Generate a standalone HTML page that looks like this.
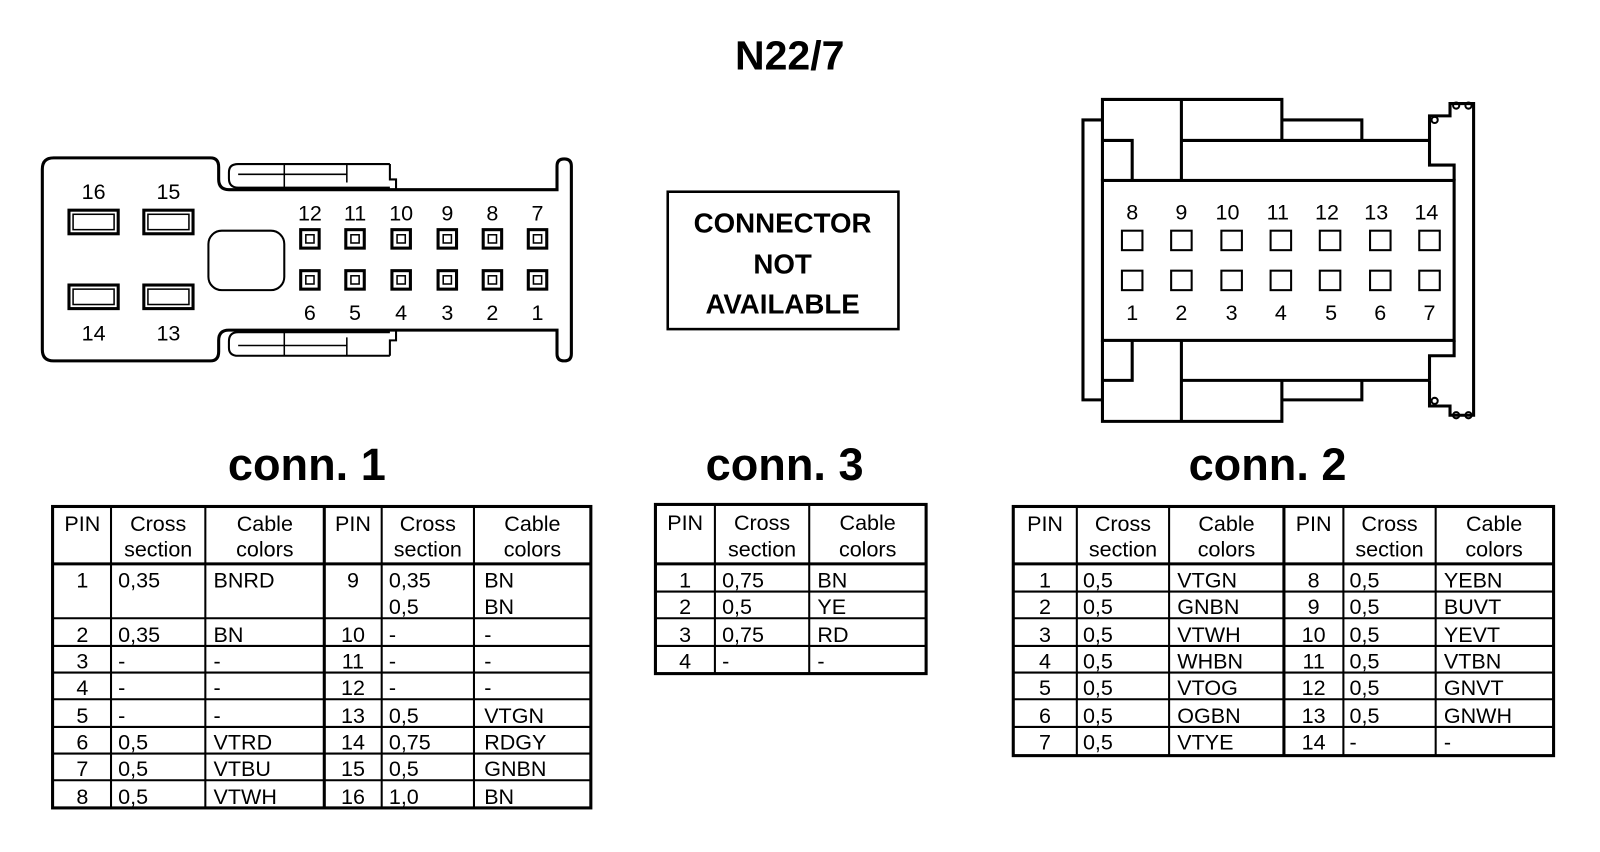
<!DOCTYPE html>
<html><head><meta charset="utf-8"><style>
html,body{margin:0;padding:0;background:#fff;}
svg{display:block;}
text{font-family:"Liberation Sans",Arial,sans-serif;fill:#000;}
.t{font-size:21px;}
.h{font-size:21px;text-anchor:middle;}
.c{text-anchor:middle;}
.p{font-size:21px;}
</style></head><body>
<svg width="1600" height="852" viewBox="0 0 1560 831" xmlns="http://www.w3.org/2000/svg">
<rect width="1560" height="831" fill="#fff"/>
<text x="770" y="68" font-size="40" font-weight="bold" class="c">N22/7</text>

<!-- conn 1 drawing -->
<g fill="none" stroke="#000" stroke-width="3">
<path d="M52,154 L205,154 Q213,154 213,163 L213,175 Q213,185 223,185 L543,185 L543,162 Q543,155 550,155 Q557,155 557,162 L557,345 Q557,352 550,352 Q543,352 543,345 L543,322 L223,322 Q213,322 213,332 L213,343 Q213,352 205,352 L52,352 Q41,352 41,341 L41,165 Q41,154 52,154 Z"/>
<path d="M380,183 L232,183 Q223,183 223,174 L223,168 Q223,160 232,160 L380,160 M380,160 L380,175 L386,175 L386,185" stroke-width="2"/>
<path d="M277,160 L277,185 M232,170 L338,170 L338,160 M338,170 L338,178" stroke-width="1.5"/>
<path d="M380,324 L232,324 Q223,324 223,333 L223,339 Q223,347 232,347 L380,347 M380,347 L380,332 L386,332 L386,322" stroke-width="2"/>
<path d="M277,322 L277,347 M232,337 L338,337 L338,347 M338,337 L338,329" stroke-width="1.5"/>
<rect x="203" y="225" width="74" height="58" rx="13" stroke-width="2"/>
</g>
<g fill="none" stroke="#000">
<rect x="67" y="205" width="48" height="23" stroke-width="3"/><rect x="71" y="209" width="40" height="15" stroke-width="1.5"/>
<rect x="140" y="205" width="48" height="23" stroke-width="3"/><rect x="144" y="209" width="40" height="15" stroke-width="1.5"/>
<rect x="67" y="278" width="48" height="23" stroke-width="3"/><rect x="71" y="282" width="40" height="15" stroke-width="1.5"/>
<rect x="140" y="278" width="48" height="23" stroke-width="3"/><rect x="144" y="282" width="40" height="15" stroke-width="1.5"/>
</g>
<g class="p">
<text x="91" y="194" class="c">16</text><text x="164" y="194" class="c">15</text>
<text x="91" y="332" class="c">14</text><text x="164" y="332" class="c">13</text>
</g>
<g fill="none" stroke="#000">
<g stroke-width="3">
<rect x="293" y="224" width="18" height="18"/><rect x="337" y="224" width="18" height="18"/><rect x="382" y="224" width="18" height="18"/><rect x="427" y="224" width="18" height="18"/><rect x="471" y="224" width="18" height="18"/><rect x="515" y="224" width="18" height="18"/>
<rect x="293" y="264" width="18" height="18"/><rect x="337" y="264" width="18" height="18"/><rect x="382" y="264" width="18" height="18"/><rect x="427" y="264" width="18" height="18"/><rect x="471" y="264" width="18" height="18"/><rect x="515" y="264" width="18" height="18"/>
</g>
<g stroke-width="1.5">
<rect x="298" y="229" width="8" height="8"/><rect x="342" y="229" width="8" height="8"/><rect x="387" y="229" width="8" height="8"/><rect x="432" y="229" width="8" height="8"/><rect x="476" y="229" width="8" height="8"/><rect x="520" y="229" width="8" height="8"/>
<rect x="298" y="269" width="8" height="8"/><rect x="342" y="269" width="8" height="8"/><rect x="387" y="269" width="8" height="8"/><rect x="432" y="269" width="8" height="8"/><rect x="476" y="269" width="8" height="8"/><rect x="520" y="269" width="8" height="8"/>
</g></g>
<g class="p">
<text x="302" y="215" class="c">12</text><text x="346" y="215" class="c">11</text><text x="391" y="215" class="c">10</text><text x="436" y="215" class="c">9</text><text x="480" y="215" class="c">8</text><text x="524" y="215" class="c">7</text>
<text x="302" y="312" class="c">6</text><text x="346" y="312" class="c">5</text><text x="391" y="312" class="c">4</text><text x="436" y="312" class="c">3</text><text x="480" y="312" class="c">2</text><text x="524" y="312" class="c">1</text>
</g>

<!-- connector not available -->
<rect x="651" y="187" width="225" height="134" fill="none" stroke="#000" stroke-width="2.5"/>
<g font-size="27" font-weight="bold" class="c">
<text x="763" y="227" class="c">CONNECTOR</text><text x="763" y="267" class="c">NOT</text><text x="763" y="306" class="c">AVAILABLE</text>
</g>

<!-- conn 2 drawing -->
<g fill="none" stroke="#000" stroke-linejoin="miter">
<rect x="1075" y="176" width="343" height="156" stroke-width="3"/>
<path d="M1075,117 L1056,117 L1056,390 L1075,390" stroke-width="3"/>
<path d="M1075,176 L1075,97 L1250,97 L1250,137 M1075,137 L1104,137 L1104,176 M1152,97 L1152,176 M1152,137 L1394,137 M1250,117 L1328,117 L1328,137" stroke-width="3"/>
<path d="M1075,332 L1075,411 L1250,411 L1250,371 M1075,371 L1104,371 L1104,332 M1152,411 L1152,332 M1152,371 L1394,371 M1250,390 L1328,390 L1328,371" stroke-width="3"/>
<path d="M1394,137 L1394,113 L1414,113 L1414,101 L1437,101 L1437,405 L1414,405 L1414,396 L1394,396 L1394,371" stroke-width="3"/>
<path d="M1394,137 L1394,161 L1418,161 L1418,176 M1394,371 L1394,347 L1418,347 L1418,332" stroke-width="3"/>
<circle cx="1399" cy="117" r="3" stroke-width="2"/><circle cx="1420" cy="103" r="3" stroke-width="2"/><circle cx="1432" cy="103" r="3" stroke-width="2"/>
<circle cx="1399" cy="391" r="3" stroke-width="2"/><circle cx="1420" cy="405" r="3" stroke-width="2"/><circle cx="1432" cy="405" r="3" stroke-width="2"/>
<g stroke-width="2">
<rect x="1094" y="225" width="20" height="19"/><rect x="1142" y="225" width="20" height="19"/><rect x="1191" y="225" width="20" height="19"/><rect x="1239" y="225" width="20" height="19"/><rect x="1287" y="225" width="20" height="19"/><rect x="1336" y="225" width="20" height="19"/><rect x="1384" y="225" width="20" height="19"/>
<rect x="1094" y="264" width="20" height="19"/><rect x="1142" y="264" width="20" height="19"/><rect x="1191" y="264" width="20" height="19"/><rect x="1239" y="264" width="20" height="19"/><rect x="1287" y="264" width="20" height="19"/><rect x="1336" y="264" width="20" height="19"/><rect x="1384" y="264" width="20" height="19"/>
</g></g>
<g class="p">
<text x="1104" y="214" class="c">8</text><text x="1152" y="214" class="c">9</text><text x="1197" y="214" class="c">10</text><text x="1246" y="214" class="c">11</text><text x="1294" y="214" class="c">12</text><text x="1342" y="214" class="c">13</text><text x="1391" y="214" class="c">14</text>
<text x="1104" y="312" class="c">1</text><text x="1152" y="312" class="c">2</text><text x="1201" y="312" class="c">3</text><text x="1249" y="312" class="c">4</text><text x="1298" y="312" class="c">5</text><text x="1346" y="312" class="c">6</text><text x="1394" y="312" class="c">7</text>
</g>

<!-- titles -->
<g font-size="44" font-weight="bold">
<text x="299" y="468" class="c">conn. 1</text>
<text x="765" y="468" class="c">conn. 3</text>
<text x="1236" y="468" class="c">conn. 2</text>
</g>

<!-- table 1 -->
<g stroke="#000" fill="none">
<rect x="51" y="494" width="525" height="294" stroke-width="3"/>
<path d="M51,550 L576,550 M316,494 L316,788" stroke-width="3"/>
<path d="M108,494 V788 M200,494 V788 M372,494 V788 M462,494 V788 M51,603 H576 M51,630 H576 M51,656 H576 M51,682 H576 M51,709 H576 M51,735 H576 M51,761 H576" stroke-width="2"/>
</g>
<g class="t">
<text x="80" y="518" class="h">PIN</text><text x="154" y="518" class="h">Cross</text><text x="154" y="543" class="h">section</text><text x="258" y="518" class="h">Cable</text><text x="258" y="543" class="h">colors</text>
<text x="344" y="518" class="h">PIN</text><text x="417" y="518" class="h">Cross</text><text x="417" y="543" class="h">section</text><text x="519" y="518" class="h">Cable</text><text x="519" y="543" class="h">colors</text>
<text x="80" y="573" class="h">1</text><text x="115" y="573">0,35</text><text x="208" y="573">BNRD</text>
<text x="344" y="573" class="h">9</text><text x="379" y="573">0,35</text><text x="472" y="573">BN</text><text x="379" y="599">0,5</text><text x="472" y="599">BN</text>
<text x="80" y="626" class="h">2</text><text x="115" y="626">0,35</text><text x="208" y="626">BN</text><text x="344" y="626" class="h">10</text><text x="379" y="626">-</text><text x="472" y="626">-</text>
<text x="80" y="652" class="h">3</text><text x="115" y="652">-</text><text x="208" y="652">-</text><text x="344" y="652" class="h">11</text><text x="379" y="652">-</text><text x="472" y="652">-</text>
<text x="80" y="678" class="h">4</text><text x="115" y="678">-</text><text x="208" y="678">-</text><text x="344" y="678" class="h">12</text><text x="379" y="678">-</text><text x="472" y="678">-</text>
<text x="80" y="705" class="h">5</text><text x="115" y="705">-</text><text x="208" y="705">-</text><text x="344" y="705" class="h">13</text><text x="379" y="705">0,5</text><text x="472" y="705">VTGN</text>
<text x="80" y="731" class="h">6</text><text x="115" y="731">0,5</text><text x="208" y="731">VTRD</text><text x="344" y="731" class="h">14</text><text x="379" y="731">0,75</text><text x="472" y="731">RDGY</text>
<text x="80" y="757" class="h">7</text><text x="115" y="757">0,5</text><text x="208" y="757">VTBU</text><text x="344" y="757" class="h">15</text><text x="379" y="757">0,5</text><text x="472" y="757">GNBN</text>
<text x="80" y="784" class="h">8</text><text x="115" y="784">0,5</text><text x="208" y="784">VTWH</text><text x="344" y="784" class="h">16</text><text x="379" y="784">1,0</text><text x="472" y="784">BN</text>
</g>

<!-- table 3 -->
<g stroke="#000" fill="none">
<rect x="639" y="492" width="264" height="165" stroke-width="3"/>
<path d="M639,550 H903" stroke-width="3"/>
<path d="M697,492 V657 M789,492 V657 M639,577 H903 M639,603 H903 M639,630 H903" stroke-width="2"/>
</g>
<g class="t">
<text x="668" y="517" class="h">PIN</text><text x="743" y="517" class="h">Cross</text><text x="743" y="543" class="h">section</text><text x="846" y="517" class="h">Cable</text><text x="846" y="543" class="h">colors</text>
<text x="668" y="573" class="h">1</text><text x="704" y="573">0,75</text><text x="797" y="573">BN</text>
<text x="668" y="599" class="h">2</text><text x="704" y="599">0,5</text><text x="797" y="599">YE</text>
<text x="668" y="626" class="h">3</text><text x="704" y="626">0,75</text><text x="797" y="626">RD</text>
<text x="668" y="652" class="h">4</text><text x="704" y="652">-</text><text x="797" y="652">-</text>
</g>

<!-- table 2 -->
<g stroke="#000" fill="none">
<rect x="988" y="494" width="527" height="243" stroke-width="3"/>
<path d="M988,550 H1515 M1252,494 V737" stroke-width="3"/>
<path d="M1050,494 V737 M1140,494 V737 M1310,494 V737 M1400,494 V737 M988,577 H1515 M988,603 H1515 M988,630 H1515 M988,656 H1515 M988,682 H1515 M988,709 H1515" stroke-width="2"/>
</g>
<g class="t">
<text x="1019" y="518" class="h">PIN</text><text x="1095" y="518" class="h">Cross</text><text x="1095" y="543" class="h">section</text><text x="1196" y="518" class="h">Cable</text><text x="1196" y="543" class="h">colors</text>
<text x="1281" y="518" class="h">PIN</text><text x="1355" y="518" class="h">Cross</text><text x="1355" y="543" class="h">section</text><text x="1457" y="518" class="h">Cable</text><text x="1457" y="543" class="h">colors</text>
<text x="1019" y="573" class="h">1</text><text x="1056" y="573">0,5</text><text x="1148" y="573">VTGN</text><text x="1281" y="573" class="h">8</text><text x="1316" y="573">0,5</text><text x="1408" y="573">YEBN</text>
<text x="1019" y="599" class="h">2</text><text x="1056" y="599">0,5</text><text x="1148" y="599">GNBN</text><text x="1281" y="599" class="h">9</text><text x="1316" y="599">0,5</text><text x="1408" y="599">BUVT</text>
<text x="1019" y="626" class="h">3</text><text x="1056" y="626">0,5</text><text x="1148" y="626">VTWH</text><text x="1281" y="626" class="h">10</text><text x="1316" y="626">0,5</text><text x="1408" y="626">YEVT</text>
<text x="1019" y="652" class="h">4</text><text x="1056" y="652">0,5</text><text x="1148" y="652">WHBN</text><text x="1281" y="652" class="h">11</text><text x="1316" y="652">0,5</text><text x="1408" y="652">VTBN</text>
<text x="1019" y="678" class="h">5</text><text x="1056" y="678">0,5</text><text x="1148" y="678">VTOG</text><text x="1281" y="678" class="h">12</text><text x="1316" y="678">0,5</text><text x="1408" y="678">GNVT</text>
<text x="1019" y="705" class="h">6</text><text x="1056" y="705">0,5</text><text x="1148" y="705">OGBN</text><text x="1281" y="705" class="h">13</text><text x="1316" y="705">0,5</text><text x="1408" y="705">GNWH</text>
<text x="1019" y="731" class="h">7</text><text x="1056" y="731">0,5</text><text x="1148" y="731">VTYE</text><text x="1281" y="731" class="h">14</text><text x="1316" y="731">-</text><text x="1408" y="731">-</text>
</g>
</svg>
</body></html>
